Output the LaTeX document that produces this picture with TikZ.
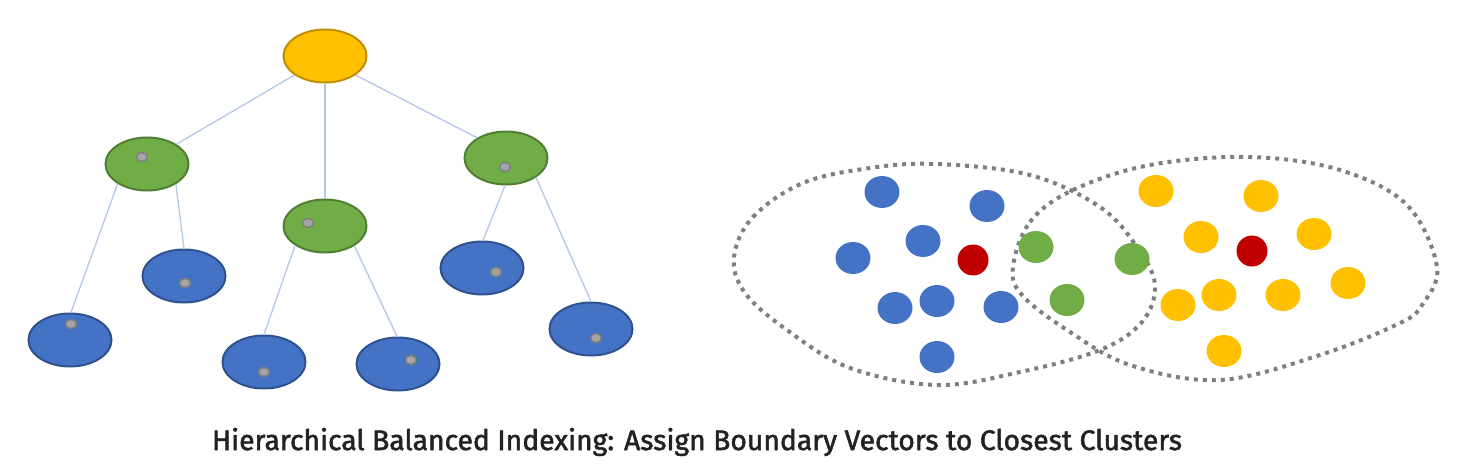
\documentclass[tikz,border=0pt]{standalone}
\usepackage{fontspec}
\setmainfont{Fira Sans}
\newfontfamily\capfont[FakeBold=1.8]{Fira Sans}
\usetikzlibrary{shapes.geometric}
\definecolor{yel}{HTML}{FFC000}
\definecolor{yelb}{HTML}{BF9000}
\definecolor{grn}{HTML}{70AD47}
\definecolor{grnb}{HTML}{507E32}
\definecolor{blu}{HTML}{4472C4}
\definecolor{blub}{HTML}{2F528F}
\definecolor{edge}{HTML}{B4C7E7}
\definecolor{redd}{HTML}{C00000}
\definecolor{dotg}{HTML}{A5A5A5}
\definecolor{dotb}{HTML}{7F7F7F}
\definecolor{captxt}{HTML}{222222}
\begin{document}
\begin{tikzpicture}[x=1pt,y=-1pt,
  tnode/.style={ellipse,minimum width=83pt,minimum height=53pt,inner sep=0pt,line width=2pt},
  yelnode/.style={tnode,fill=yel,draw=yelb},
  grnnode/.style={tnode,fill=grn,draw=grnb},
  blunode/.style={tnode,fill=blu,draw=blub},
  cent/.style={ellipse,minimum width=11pt,minimum height=9pt,inner sep=0pt,fill=dotg,draw=dotb,line width=1.5pt},
  link/.style={draw=edge,line width=1.3pt},
  pt/.style={ellipse,minimum width=35pt,minimum height=32pt,inner sep=0pt},
  bpt/.style={pt,fill=blu},
  ypt/.style={pt,fill=yel},
  gpt/.style={pt,fill=grn},
  rpt/.style={circle,minimum size=31pt,inner sep=0pt,fill=redd},
  bound/.style={draw=dotb,line width=4pt,dash pattern=on 4pt off 5pt}
]
\useasboundingbox (0,0) rectangle (1460,471);
% tree
\node[yelnode] (r) at (325,56) {};
\node[grnnode] (g1) at (147,164) {};
\node[grnnode] (g2) at (325,226) {};
\node[grnnode] (g3) at (506,158) {};
\node[blunode] (b1) at (70,340) {};
\node[blunode] (b2) at (184,276) {};
\node[blunode] (b3) at (264,362) {};
\node[blunode] (b4) at (398,364) {};
\node[blunode] (b5) at (482,268) {};
\node[blunode] (b6) at (591,329) {};
\draw[link] (r.212) -- (g1.34);
\draw[link] (r.270) -- (g2.90);
\draw[link] (r.328) -- (g3.145);
\draw[link] (g1.214) -- (b1.88);
\draw[link] (g1.325) -- (b2.90);
\draw[link] (g2.213) -- (b3.90);
\draw[link] (g2.326) -- (b4.92);
\draw[link] (g3.268) -- (b5.88);
\draw[link] (g3.327) -- (b6.90);
\node[cent] (c1) at (142,157) {};
\node[cent] (c2) at (308,223) {};
\node[cent] (c3) at (505,167) {};
\node[cent] (c4) at (71,324) {};
\node[cent] (c5) at (185,283) {};
\node[cent] (c6) at (264,372) {};
\node[cent] (c7) at (411,360) {};
\node[cent] (c8) at (496,272) {};
\node[cent] (c9) at (596,338) {};
% clusters boundaries
\draw[bound] plot[smooth cycle,tension=0.6] coordinates {(734,257) (753,217) (803,183) (870,168) (937,164) (1030,175) (1100,207) (1137,247) (1155,285) (1142,322) (1100,350) (1020,372) (937,385) (850,368) (787,330) (745,293)};
\draw[bound] plot[smooth cycle,tension=0.6] coordinates {(1013,267) (1030,222) (1073,190) (1150,165) (1250,157) (1340,170) (1407,205) (1437,267) (1422,305) (1400,323) (1320,355) (1220,380) (1130,365) (1067,330) (1022,295)};
% points
\node[bpt] (p1) at (882,192) {};
\node[bpt] (p2) at (987,206) {};
\node[bpt] (p3) at (923,241) {};
\node[bpt] (p4) at (853,258) {};
\node[bpt] (p5) at (895,308) {};
\node[bpt] (p6) at (937,301) {};
\node[bpt] (p7) at (1001,307) {};
\node[bpt] (p8) at (937,357) {};
\node[rpt] (q1) at (973,260) {};
\node[gpt] (s1) at (1036,247) {};
\node[gpt] (s2) at (1132,259) {};
\node[gpt] (s3) at (1067,300) {};
\node[ypt] (y1) at (1156,191) {};
\node[ypt] (y2) at (1261,196) {};
\node[ypt] (y3) at (1201,237) {};
\node[ypt] (y4) at (1314,234) {};
\node[rpt] (q2) at (1252,251) {};
\node[ypt] (y5) at (1219,295) {};
\node[ypt] (y6) at (1283,295) {};
\node[ypt] (y7) at (1178,305) {};
\node[ypt] (y8) at (1348,283) {};
\node[ypt] (y9) at (1224,351) {};
% caption
\node[text=captxt,inner sep=0pt] (cap) at (697,442) {\resizebox{970pt}{!}{\capfont Hierarchical Balanced Indexing: Assign Boundary Vectors to Closest Clusters}};
\end{tikzpicture}
\end{document}
